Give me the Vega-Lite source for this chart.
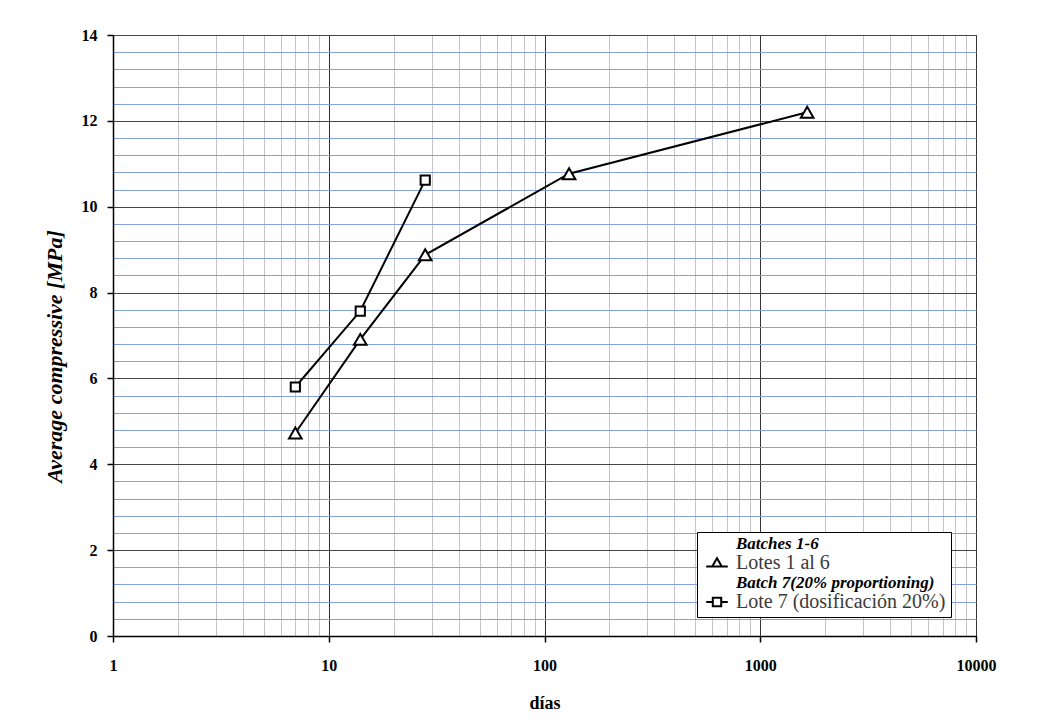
{
  "$schema": "https://vega.github.io/schema/vega-lite/v6.json",
  "width": 863,
  "height": 601,
  "autosize": {"type": "none"},
  "padding": {"left": 113, "top": 35, "right": 74, "bottom": 87},
  "background": "white",
  "config": {
    "view": {"stroke": "#333", "strokeWidth": 1},
    "font": "Liberation Serif"
  },
  "data": {
    "values": [
      {"dias": 7, "mpa": 4.73, "serie": "Lotes 1 al 6"},
      {"dias": 14, "mpa": 6.91, "serie": "Lotes 1 al 6"},
      {"dias": 28, "mpa": 8.88, "serie": "Lotes 1 al 6"},
      {"dias": 130, "mpa": 10.77, "serie": "Lotes 1 al 6"},
      {"dias": 1650, "mpa": 12.2, "serie": "Lotes 1 al 6"},
      {"dias": 7, "mpa": 5.8, "serie": "Lote 7 (dosificación 20%)"},
      {"dias": 14, "mpa": 7.57, "serie": "Lote 7 (dosificación 20%)"},
      {"dias": 28, "mpa": 10.62, "serie": "Lote 7 (dosificación 20%)"}
    ]
  },
  "encoding": {
    "x": {
      "field": "dias",
      "type": "quantitative",
      "scale": {"type": "log", "domain": [1, 10000], "nice": false},
      "axis": {
        "values": [1,2,3,4,5,6,7,8,9,10,20,30,40,50,60,70,80,90,100,200,300,400,500,600,700,800,900,1000,2000,3000,4000,5000,6000,7000,8000,9000,10000],
        "labelExpr": "indexof([1,10,100,1000,10000], datum.value) >= 0 ? format(datum.value, 'd') : ''",
        "labelFlush": false,
        "labelOverlap": false,
        "labelBound": false,
        "labelFont": "Liberation Serif",
        "labelFontWeight": "bold",
        "labelFontSize": 16,
        "labelColor": "black",
        "labelPadding": 15,
        "domainColor": "black",
        "domainWidth": 1.5,
        "tickColor": "black",
        "tickWidth": 1.5,
        "tickSize": 6,
        "tickOpacity": {"condition": {"test": "indexof([1,10,100,1000,10000], datum.value) >= 0", "value": 1}, "value": 0},
        "grid": true,
        "gridColor": {"condition": {"test": "indexof([1,10,100,1000,10000], datum.value) >= 0", "value": "#333333"}, "value": "#c4c4c4"},
        "gridWidth": 1,
        "gridOpacity": 1,
        "title": "días",
        "titleFont": "Liberation Serif",
        "titleFontWeight": "bold",
        "titleFontSize": 18,
        "titleColor": "black",
        "titleBaseline": "middle",
        "titleY": 67
      }
    },
    "y": {
      "field": "mpa",
      "type": "quantitative",
      "scale": {"domain": [0, 14], "nice": false},
      "axis": {
        "values": [0,0.4,0.8,1.2,1.6,2,2.4,2.8,3.2,3.6,4,4.4,4.8,5.2,5.6,6,6.4,6.8,7.2,7.6,8,8.4,8.8,9.2,9.6,10,10.4,10.8,11.2,11.6,12,12.4,12.8,13.2,13.6,14],
        "labelExpr": "datum.value % 2 === 0 ? format(datum.value, 'd') : ''",
        "labelOverlap": false,
        "labelBound": false,
        "labelFont": "Liberation Serif",
        "labelFontWeight": "bold",
        "labelFontSize": 16,
        "labelColor": "black",
        "labelPadding": 10,
        "domainColor": "black",
        "domainWidth": 1.5,
        "tickColor": "black",
        "tickWidth": 1.5,
        "tickSize": 6,
        "tickOpacity": {"condition": {"test": "datum.value % 2 === 0", "value": 1}, "value": 0},
        "grid": true,
        "gridColor": {"condition": {"test": "datum.value % 2 === 0", "value": "#444444"}, "value": "#84a0de"},
        "gridWidth": 1,
        "gridOpacity": 1,
        "title": "Average compressive [MPa]",
        "titleFont": "Liberation Serif",
        "titleFontWeight": "bold",
        "titleFontStyle": "italic",
        "titleFontSize": 22,
        "titleColor": "black",
        "titleAngle": -90,
        "titleAlign": "center",
        "titleBaseline": "middle",
        "titleX": -59,
        "titleY": 321
      }
    }
  },
  "layer": [
    {
      "mark": {"type": "line", "color": "black", "strokeWidth": 2},
      "encoding": {"detail": {"field": "serie", "type": "nominal"}}
    },
    {
      "mark": {"type": "point", "filled": true, "fill": "white", "stroke": "black", "strokeWidth": 2, "opacity": 1},
      "encoding": {
        "shape": {
          "field": "serie",
          "type": "nominal",
          "scale": {"domain": ["Lotes 1 al 6", "Lote 7 (dosificación 20%)"], "range": ["triangle-up", "square"]},
          "legend": null
        },
        "size": {
          "field": "serie",
          "type": "nominal",
          "scale": {"domain": ["Lotes 1 al 6", "Lote 7 (dosificación 20%)"], "range": [160, 85]},
          "legend": null
        }
      }
    },
    {
      "transform": [{"filter": "datum.dias < 0"}],
      "mark": {"type": "point", "filled": true, "fill": "white", "stroke": "black", "strokeWidth": 2, "size": 144},
      "encoding": {
        "shape": {
          "field": "serie",
          "type": "nominal",
          "scale": {
            "domain": ["Batches 1-6", "Lotes 1 al 6", "Batch 7(20% proportioning)", "Lote 7 (dosificación 20%)"],
            "range": [
              "M0,0Z",
              "M-1.8,0.6H-0.8M0.8,0.6H1.8M-0.8,0.6L0,-0.8L0.8,0.6Z",
              "M0,0Z",
              "M-1.8,0H-0.7M0.7,0H1.8M-0.7,-0.7H0.7V0.7H-0.7Z"
            ]
          },
          "legend": {
            "orient": "none",
            "legendX": 584,
            "legendY": 497,
            "title": null,
            "strokeColor": "black",
            "fillColor": "white",
            "padding": 5,
            "symbolSize": 144,
            "symbolStrokeColor": "black",
            "symbolFillColor": "white",
            "symbolStrokeWidth": 2,
            "symbolOpacity": 1,
            "symbolOffset": 8,
            "labelOffset": 12,
            "labelFont": "Liberation Serif",
            "labelFontSize": 20,
            "labelColor": "#3a3a3a",
            "labelLimit": 400,
            "rowPadding": 1,
            "encoding": {
              "symbols": {
                "fill": {"value": "white"},
                "stroke": {"value": "black"},
                "strokeWidth": {"value": 2},
                "opacity": {"value": 1},
                "fillOpacity": {"value": 1},
                "strokeOpacity": {"value": 1}
              },
              "labels": {
                "font": {"value": "Liberation Serif"},
                "fontSize": {"condition": {"test": "indexof(datum.label, 'Batch') === 0", "value": 17}, "value": 20},
                "fontStyle": {"condition": {"test": "indexof(datum.label, 'Batch') === 0", "value": "italic"}, "value": "normal"},
                "fontWeight": {"condition": {"test": "indexof(datum.label, 'Batch') === 0", "value": "bold"}, "value": "normal"},
                "fill": {"condition": {"test": "indexof(datum.label, 'Batch') === 0", "value": "black"}, "value": "#3a3a3a"}
              }
            }
          }
        }
      }
    }
  ],
  "resolve": {"scale": {"shape": "independent"}}
}
